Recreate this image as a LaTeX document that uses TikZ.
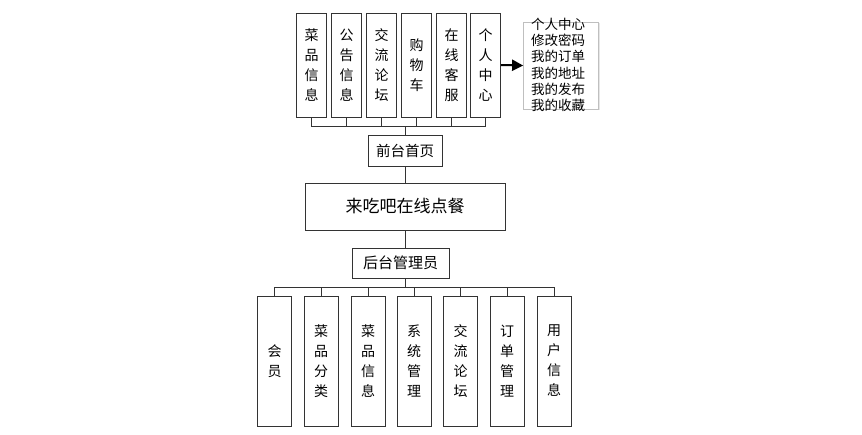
\documentclass[tikz,border=0pt]{standalone}
\usepackage{fontspec}
\setmainfont{Noto Sans CJK SC}
\usetikzlibrary{arrows.meta,calc,shadows}

\begin{document}
\begin{tikzpicture}[x=1pt,y=-1pt]
    \tikzset{box/.style={draw=black!80, line width=1pt, inner sep=0pt, align=center},
             vbox/.style={box, font=\fontsize{14}{20}\selectfont},
             wire/.style={draw=black!80, line width=1pt},
             arr/.style={-{Triangle[length=11pt, width=11pt]}, line width=2pt}}
    \useasboundingbox (0,0) rectangle (862,434);

    % front end menu
    \foreach \i/\x/\t in {1/311.5/菜\\品\\信\\息, 2/346.5/公\\告\\信\\息, 3/381.5/交\\流\\论\\坛,
                          4/416.5/购\\物\\车, 5/451.5/在\\线\\客\\服, 6/485.5/个\\人\\中\\心}
        \node[vbox, minimum width=30, minimum height=104] (t\i) at (\x,65) {\t};

    \node[box, minimum width=74, minimum height=31, font=\fontsize{14.5}{16}\selectfont] (front) at (405,150.5) {前台首页};
    \coordinate (fbus) at (405,126);
    \foreach \i in {1,...,6}
        \draw[wire] (t\i.south) |- (fbus);
    \draw[wire] (fbus) -- (front.north);

    % sub menu of the personal centre
    \node[draw=black!25, fill=white, line width=0.8pt, minimum width=75, minimum height=87,
          drop shadow={shadow xshift=1pt, shadow yshift=-1pt, opacity=0.2}] (plist) at (561,65.5) {};
    \node[anchor=west, inner sep=0pt, align=left, font=\fontsize{13.5}{16.3}\selectfont] (ptext) at (531,65)
        {个人中心\\修改密码\\我的订单\\我的地址\\我的发布\\我的收藏};
    \draw[arr] (t6.east) -- (plist.west);

    % system
    \node[box, minimum width=200, minimum height=47, font=\fontsize{17}{20}\selectfont] (main) at (405,206.5) {来吃吧在线点餐};
    \draw[wire] (front.south) -- (main.north);

    % back end
    \node[box, minimum width=97, minimum height=30, font=\fontsize{15}{17}\selectfont] (admin) at (400.5,263) {后台管理员};
    \draw[wire] (main.south) -- (main.south |- admin.north);
    \coordinate (bbus) at (405,287);
    \draw[wire] (bbus |- admin.south) -- (bbus);

    \foreach \i/\x/\t in {1/274.5/会\\员, 2/321/菜\\品\\分\\类, 3/368/菜\\品\\信\\息, 4/414/系\\统\\管\\理,
                          5/460.5/交\\流\\论\\坛, 6/507/订\\单\\管\\理, 7/554/用\\户\\信\\息}
    {
        \node[vbox, minimum width=34, minimum height=130] (b\i) at (\x,361) {\t};
        \draw[wire] (bbus) -| (b\i.north);
    }
\end{tikzpicture}
\end{document}
